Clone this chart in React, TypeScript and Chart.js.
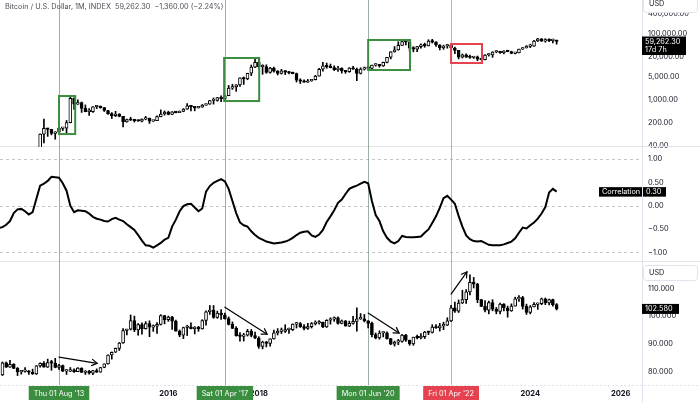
import React, { useEffect, useRef } from "react";
import { Chart, registerables } from "chart.js";

Chart.register(...registerables);

// month index: 0 = Jan 2012
const btcFirstMonth = 14; // Mar 2013
// [open, high, low, close]
const btcCandles: number[][] = [
  [33.4, 95, 33, 93], [93, 266, 50, 139], [139, 140, 79, 129], [129, 130, 88, 97], [97, 110, 65, 106],
  [106, 140, 101, 139], [139, 145, 119, 141], [141, 240, 100, 206], [206, 1240, 204, 1130], [1130, 1160, 520, 750],
  // 2014
  [750, 1020, 740, 830], [830, 870, 420, 560], [560, 710, 440, 445], [445, 550, 340, 445], [445, 630, 420, 625], [625, 680, 550, 640],
  [640, 660, 565, 585], [585, 600, 450, 480], [480, 490, 365, 387], [387, 415, 275, 338], [338, 455, 315, 378], [378, 385, 310, 320],
  // 2015
  [320, 320, 152, 217], [217, 265, 212, 254], [254, 300, 240, 244], [244, 262, 215, 236], [236, 247, 228, 230], [230, 268, 218, 263],
  [263, 318, 251, 284], [284, 284, 195, 230], [230, 243, 225, 236], [236, 331, 236, 314], [314, 502, 310, 378], [378, 468, 348, 430],
  // 2016
  [430, 460, 355, 368], [368, 446, 365, 437], [437, 440, 405, 416], [416, 465, 414, 448], [448, 550, 440, 531], [531, 780, 520, 670],
  [670, 690, 470, 624], [624, 627, 470, 575], [575, 630, 568, 609], [609, 730, 603, 700], [700, 755, 680, 745], [745, 980, 740, 964],
  // 2017
  [964, 1150, 750, 965], [965, 1200, 920, 1190], [1190, 1350, 890, 1080], [1080, 1350, 1060, 1350], [1350, 2760, 1350, 2300], [2300, 3000, 2100, 2480],
  [2480, 2920, 1830, 2875], [2875, 4740, 2600, 4700], [4700, 4980, 2970, 4340], [4340, 6470, 4110, 6450], [6450, 11500, 5500, 9950], [9950, 19800, 9500, 13800],
  // 2018
  [13800, 17200, 9000, 10200], [10200, 11700, 6000, 10300], [10300, 11700, 6450, 6900], [6900, 9750, 6450, 9200], [9200, 10000, 7000, 7500], [7500, 7800, 5750, 6400],
  [6400, 8500, 6100, 7700], [7700, 7750, 5880, 7000], [7000, 7400, 6150, 6600], [6600, 7000, 6200, 6300], [6300, 6560, 3500, 4000], [4000, 4400, 3150, 3700],
  // 2019
  [3700, 4100, 3400, 3450], [3450, 4200, 3400, 3800], [3800, 4150, 3700, 4100], [4100, 5600, 4050, 5300], [5300, 9100, 5300, 8550], [8550, 13800, 7500, 10800],
  [10800, 13200, 9100, 10100], [10100, 12300, 9400, 9600], [9600, 10900, 7800, 8300], [8300, 10500, 7300, 9150], [9150, 9500, 6500, 7550], [7550, 7750, 6450, 7200],
  // 2020
  [7200, 9600, 6900, 9350], [9350, 10500, 8450, 8550], [8550, 9200, 3850, 6400], [6400, 9450, 6150, 8650], [8650, 10000, 8100, 9450], [9450, 10400, 8900, 9140],
  [9140, 11450, 8900, 11350], [11350, 12470, 10600, 11650], [11650, 12100, 9900, 10780], [10780, 14100, 10400, 13800], [13800, 19800, 13200, 19700], [19700, 29300, 17600, 28990],
  // 2021
  [28990, 41900, 28100, 33100], [33100, 58300, 32300, 45200], [45200, 61800, 45000, 58800], [58800, 64800, 47000, 57700], [57700, 59500, 30000, 37300], [37300, 41300, 28800, 35000],
  [35000, 42300, 29300, 41500], [41500, 50500, 37300, 47100], [47100, 52900, 39600, 43800], [43800, 67000, 43300, 61300], [61300, 69000, 53300, 57000], [57000, 59000, 42000, 46300],
  // 2022
  [46300, 47900, 32900, 38500], [38500, 45800, 34300, 43200], [43200, 48200, 37200, 45500], [45500, 47400, 37600, 37700], [37700, 40000, 25400, 31800], [31800, 31900, 17600, 19900],
  [19900, 24700, 18800, 23300], [23300, 25200, 19600, 20000], [20000, 22800, 18200, 19400], [19400, 21000, 18200, 20500], [20500, 21500, 15500, 17200], [17200, 18400, 16300, 16550],
  // 2023
  [16550, 23900, 16500, 23100], [23100, 25250, 21400, 23150], [23150, 29200, 19600, 28500], [28500, 31000, 27000, 29250], [29250, 29800, 25900, 27200], [27200, 31400, 24800, 30500],
  [30500, 31800, 28900, 29200], [29200, 30200, 25200, 25950], [25950, 27500, 24900, 26950], [26950, 35200, 26600, 34650], [34650, 38400, 34100, 37700], [37700, 44700, 37600, 42300],
  // 2024
  [42300, 48900, 38600, 42600], [42600, 63900, 41900, 61200], [61200, 73800, 59100, 71300], [71300, 72800, 59600, 60600], [60600, 71900, 56600, 67500], [67500, 72000, 58500, 62700],
  [62700, 70000, 53500, 64600], [64600, 65600, 49000, 59262.3],
];

const dxyFirstMonth = 4; // May 2012
const dxyCandles: number[][] = [
  [78.8, 83.5, 78.6, 83.2], [83.2, 83.5, 81.5, 81.6], [81.6, 84.1, 81.5, 82.6], [82.6, 82.9, 81.1, 81.2],
  [81.2, 81.5, 78.6, 79.9], [79.9, 80.4, 79.1, 80.1], [80.1, 81.5, 79.8, 80.1], [80.1, 80.4, 79.0, 79.8],
  // 2013
  [79.8, 80.9, 79.0, 79.2], [79.2, 82.2, 79.0, 82.1], [82.1, 83.2, 81.6, 83.0], [83.0, 83.6, 81.6, 81.6], [81.6, 84.5, 81.5, 83.3], [83.3, 84.1, 80.5, 83.1],
  [83.1, 84.8, 81.4, 81.5], [81.5, 82.6, 80.8, 82.2], [82.2, 82.4, 80.0, 80.2], [80.2, 80.7, 79.0, 80.2], [80.2, 81.5, 80.0, 80.7], [80.7, 81.0, 79.7, 80.0],
  // 2014
  [80.0, 81.5, 80.0, 81.3], [81.3, 81.4, 79.7, 79.7], [79.7, 80.4, 79.0, 80.1], [80.1, 80.5, 79.1, 79.5], [79.5, 80.5, 78.9, 80.4], [80.4, 81.0, 79.7, 79.8],
  [79.8, 81.6, 79.8, 81.5], [81.5, 82.8, 81.4, 82.8], [82.8, 86.1, 82.7, 86.0], [86.0, 87.1, 84.5, 87.0], [87.0, 88.5, 86.9, 88.4], [88.4, 90.5, 87.6, 90.3],
  // 2015
  [90.3, 95.5, 90.2, 94.8], [94.8, 95.3, 93.2, 95.3], [95.3, 100.4, 95.0, 98.4], [98.4, 100.0, 94.4, 95.0], [95.0, 97.3, 93.1, 96.9], [96.9, 97.6, 93.5, 95.5],
  [95.5, 98.0, 95.3, 97.3], [97.3, 98.3, 92.6, 96.0], [96.0, 96.8, 94.5, 96.4], [96.4, 97.7, 93.8, 97.0], [97.0, 100.5, 96.8, 100.2], [100.2, 100.3, 97.2, 98.7],
  // 2016
  [98.7, 100.0, 98.1, 99.6], [99.6, 99.9, 95.2, 98.2], [98.2, 98.6, 94.6, 94.6], [94.6, 95.0, 92.6, 93.1], [93.1, 96.0, 91.9, 95.9], [95.9, 96.7, 93.0, 96.1],
  [96.1, 97.6, 95.4, 95.5], [95.5, 96.2, 93.6, 96.0], [96.0, 96.3, 94.5, 95.4], [95.4, 98.7, 95.3, 98.4], [98.4, 101.9, 96.7, 101.5], [101.5, 103.8, 100.6, 102.2],
  // 2017
  [102.2, 103.8, 99.2, 99.5], [99.5, 101.8, 99.2, 101.1], [101.1, 102.3, 98.8, 100.4], [100.4, 101.1, 98.9, 99.1], [99.1, 99.7, 96.8, 97.0], [97.0, 97.9, 95.5, 95.6],
  [95.6, 96.2, 92.8, 92.9], [92.9, 94.1, 91.0, 92.7], [92.7, 93.8, 91.0, 93.1], [93.1, 95.2, 92.8, 94.5], [94.5, 95.2, 92.5, 93.0], [93.0, 94.2, 91.9, 92.1],
  // 2018
  [92.1, 92.6, 88.4, 89.1], [89.1, 91.0, 88.2, 90.6], [90.6, 90.9, 88.9, 90.2], [90.2, 91.8, 89.2, 91.8], [91.8, 95.0, 91.7, 94.0], [94.0, 95.5, 93.2, 94.5],
  [94.5, 95.7, 93.7, 94.5], [94.5, 96.9, 94.1, 95.1], [95.1, 95.7, 93.8, 95.1], [95.1, 97.2, 94.8, 97.1], [97.1, 97.7, 95.7, 97.3], [97.3, 97.7, 95.9, 96.2],
  // 2019
  [96.2, 96.9, 95.0, 95.6], [95.6, 97.4, 95.2, 96.2], [96.2, 97.7, 95.7, 97.3], [97.3, 98.3, 96.8, 97.5], [97.5, 98.4, 97.1, 97.8], [97.8, 97.8, 95.8, 96.1],
  [96.1, 98.7, 95.9, 98.5], [98.5, 99.4, 97.1, 98.9], [98.9, 99.7, 98.1, 99.4], [99.4, 99.7, 97.1, 97.4], [97.4, 98.6, 97.2, 98.3], [98.3, 98.4, 96.4, 96.4],
  // 2020
  [96.4, 98.2, 96.2, 97.4], [97.4, 99.9, 97.1, 98.1], [98.1, 103.0, 94.6, 99.0], [99.0, 100.9, 98.8, 99.0], [99.0, 100.6, 97.9, 98.3], [98.3, 98.4, 95.7, 97.4],
  [97.4, 97.8, 92.5, 93.3], [93.3, 93.9, 91.8, 92.1], [92.1, 94.7, 91.7, 93.9], [93.9, 94.3, 92.5, 94.0], [94.0, 94.3, 91.7, 91.9], [91.9, 92.0, 89.7, 89.9],
  // 2021
  [89.9, 91.0, 89.2, 90.6], [90.6, 91.6, 89.7, 90.9], [90.9, 93.4, 90.6, 93.2], [93.2, 93.4, 90.9, 91.3], [91.3, 91.4, 89.5, 90.0], [90.0, 92.4, 89.5, 92.4],
  [92.4, 93.2, 91.8, 92.2], [92.2, 93.7, 91.8, 92.6], [92.6, 94.5, 91.9, 94.2], [94.2, 94.6, 93.3, 94.1], [94.1, 96.9, 93.9, 96.0], [96.0, 96.9, 95.6, 95.7],
  // 2022
  [95.7, 97.4, 94.6, 96.5], [96.5, 97.8, 95.1, 96.7], [96.7, 99.4, 96.6, 98.3], [98.3, 103.9, 98.0, 103.0], [103.0, 105.0, 101.3, 101.8], [101.8, 105.8, 101.3, 104.7],
  [104.7, 109.3, 104.5, 105.9], [105.9, 109.5, 104.6, 108.7], [108.7, 114.8, 107.6, 112.1], [112.1, 113.9, 110.1, 111.5], [111.5, 111.8, 104.8, 105.9], [105.9, 106.0, 103.4, 103.5],
  // 2023
  [103.5, 105.6, 101.5, 102.1], [102.1, 105.4, 100.8, 104.9], [104.9, 105.9, 101.9, 102.5], [102.5, 103.1, 100.8, 101.7], [101.7, 104.7, 100.8, 104.3], [104.3, 104.5, 101.9, 102.9],
  [102.9, 103.6, 99.6, 101.9], [101.9, 104.4, 101.7, 103.6], [103.6, 106.8, 103.6, 106.2], [106.2, 107.4, 105.3, 106.7], [106.7, 107.1, 102.5, 103.5], [103.5, 104.3, 100.6, 101.3],
  // 2024
  [101.3, 103.8, 100.8, 103.3], [103.3, 104.9, 103.3, 104.2], [104.2, 104.7, 102.4, 104.5], [104.5, 106.5, 104.1, 106.2], [106.2, 106.5, 104.1, 104.7], [104.7, 106.1, 104.0, 105.9],
  [105.9, 106.1, 103.6, 104.1], [104.1, 104.5, 102.2, 102.58],
];

const corrFirstMonth = 3;
const correlation: number[] = [
  -0.48, -0.46, -0.41, -0.33, -0.16, -0.08, -0.07, -0.12, -0.19, -0.14,
  0.15, 0.43, 0.47, 0.53, 0.62, 0.61, 0.6, 0.48, 0.32, 0.0,
  -0.14, -0.1, -0.11, -0.12, -0.17, -0.24, -0.28, -0.3, -0.33, -0.34,
  -0.29, -0.26, -0.3, -0.33, -0.4, -0.46, -0.52, -0.63, -0.75, -0.85,
  -0.86, -0.9, -0.85, -0.8, -0.73, -0.69, -0.45, -0.3, -0.12, -0.01,
  0.03, 0.04, -0.04, -0.12, -0.06, 0.3, 0.42, 0.49, 0.53, 0.57,
  0.52, 0.36, 0.1, -0.16, -0.36, -0.42, -0.45, -0.55, -0.63, -0.69,
  -0.73, -0.77, -0.79, -0.81, -0.8, -0.79, -0.77, -0.74, -0.69, -0.63,
  -0.58, -0.56, -0.55, -0.64, -0.67, -0.62, -0.52, -0.35, -0.23, -0.1,
  0.06, 0.13, 0.25, 0.36, 0.4, 0.43, 0.47, 0.51, 0.48, 0.1,
  -0.2, -0.33, -0.55, -0.69, -0.77, -0.81, -0.76, -0.65, -0.67, -0.68,
  -0.68, -0.67, -0.66, -0.58, -0.51, -0.37, -0.23, -0.05, 0.16, 0.21,
  0.13, 0.04, -0.22, -0.45, -0.64, -0.72, -0.76, -0.77, -0.76, -0.8,
  -0.84, -0.85, -0.85, -0.85, -0.83, -0.8, -0.77, -0.7, -0.58, -0.47,
  -0.49, -0.42, -0.36, -0.28, -0.17, -0.03, 0.28, 0.36, 0.3,
];

const yearTicks = [24, 48, 72, 96, 120, 144, 168];
const btcTicks = [40, 200, 1000, 5000, 20000, 100000, 400000];
const corrTicks = [-1, -0.5, 0, 0.5, 1];
const corrGuides = [1, 0, -1];
const dxyTicks = [80, 90, 100, 110];

const eventMonths = [19, 63, 101, 123];
const eventLabels = ["Thu 01 Aug '13", "Sat 01 Apr '17", "Mon 01 Jun '20", "Fri 01 Apr '22"];
const eventBullish = [true, true, true, false];

const boxStart = [19, 62.8, 101, 123];
const boxEnd = [23.3, 72.1, 112.1, 131.2];
const boxLow = [93, 930, 8100, 13200];
const boxHigh = [1320, 18750, 65800, 49700];

const arrowFromX = [19, 63, 101, 123];
const arrowFromY = [85.2, 103.2, 101.1, 107.9];
const arrowToX = [29.1, 74.2, 109.2, 127.2];
const arrowToY = [83.0, 93.5, 93.9, 115.9];

const titleText = "Bitcoin / U.S. Dollar, 1M, INDEX";
const btcChange = -1360.0;
const btcChangePct = -2.24;
const countdown = "17d 7h";

const FONT = "Inter, 'Liberation Sans', sans-serif";
const GREEN = "#3b8e3f";
const RED = "#e5414e";
const SEP = "#e0e3eb";
const TEXT = "#131722";

function fmt2(v: number) {
  return v.toLocaleString("en-US", { minimumFractionDigits: 2, maximumFractionDigits: 2 });
}
function signed(v: number, d: number) {
  return (v < 0 ? "\u2212" : "") + Math.abs(v).toLocaleString("en-US", { minimumFractionDigits: d, maximumFractionDigits: d });
}

function candleSets(candles: number[][], first: number, axis: string) {
  const wicks = candles.map((c, i) => ({ x: first + i, y: [c[2], c[1]] }));
  const bodies = candles.map((c, i) => ({ x: first + i, y: [Math.min(c[0], c[3]), Math.max(c[0], c[3])] }));
  const fills = candles.map((c) => (c[3] >= c[0] ? "#ffffff" : "#000000"));
  return [
    {
      type: "bar", data: wicks, yAxisID: axis, xAxisID: "x", backgroundColor: "#000000",
      barThickness: 1, grouped: false, borderWidth: 0, order: 2,
    },
    {
      type: "bar", data: bodies, yAxisID: axis, xAxisID: "x", backgroundColor: fills,
      borderColor: "#000000", borderWidth: 1, borderSkipped: false, barThickness: 3,
      minBarLength: 1.5, grouped: false, order: 1,
    },
  ];
}

function seg(ctx: CanvasRenderingContext2D, x1: number, y1: number, x2: number, y2: number) {
  ctx.beginPath();
  ctx.moveTo(x1, y1);
  ctx.lineTo(x2, y2);
  ctx.stroke();
}

const zeroPad = (s: any) => {
  s.paddingTop = 0;
  s.paddingBottom = 0;
  s.paddingLeft = 0;
  s.paddingRight = 0;
};

const overlay = {
  id: "overlay",
  beforeDatasetsDraw(chart: any) {
    const { ctx, chartArea: a, scales } = chart;
    const x = scales.x, yb = scales.yBtc, yc = scales.yCorr;
    ctx.save();
    ctx.lineWidth = 1;
    ctx.strokeStyle = "#c3c6cd";
    ctx.setLineDash([3, 3]);
    corrGuides.forEach((v) => {
      const py = Math.round(yc.getPixelForValue(v)) + 0.5;
      seg(ctx, a.left, py, a.right, py);
    });
    ctx.strokeStyle = SEP;
    ctx.setLineDash([2, 2]);
    seg(ctx, a.left, Math.round(a.bottom) + 0.5, chart.width, Math.round(a.bottom) + 0.5);
    ctx.setLineDash([]);
    [yb.bottom, yc.bottom].forEach((b: number) => {
      const py = Math.round(b) - 0.5;
      seg(ctx, 0, py, chart.width, py);
    });
    seg(ctx, Math.round(a.right) + 0.5, 0, Math.round(a.right) + 0.5, chart.height);
    eventMonths.forEach((m, i) => {
      const px = Math.round(x.getPixelForValue(m)) + 0.5;
      ctx.strokeStyle = eventBullish[i] ? "rgba(90,125,100,0.6)" : "rgba(225,90,105,0.6)";
      seg(ctx, px, 0, px, a.bottom);
    });
    ctx.restore();
  },
  afterDatasetsDraw(chart: any) {
    const { ctx, scales } = chart;
    const x = scales.x, yb = scales.yBtc, yd = scales.yDxy;
    ctx.save();
    ctx.lineWidth = 2;
    boxStart.forEach((s, i) => {
      const x1 = x.getPixelForValue(s), x2 = x.getPixelForValue(boxEnd[i]);
      const y1 = yb.getPixelForValue(boxHigh[i]), y2 = yb.getPixelForValue(boxLow[i]);
      ctx.strokeStyle = eventBullish[i] ? GREEN : RED;
      ctx.strokeRect(x1, y1, x2 - x1, y2 - y1);
    });
    ctx.strokeStyle = "#000000";
    ctx.lineWidth = 1.2;
    ctx.lineCap = "round";
    arrowFromX.forEach((fx, i) => {
      const x1 = x.getPixelForValue(fx), y1 = yd.getPixelForValue(arrowFromY[i]);
      const x2 = x.getPixelForValue(arrowToX[i]), y2 = yd.getPixelForValue(arrowToY[i]);
      seg(ctx, x1, y1, x2, y2);
      const ang = Math.atan2(y2 - y1, x2 - x1);
      const L = 6, sp = 0.55;
      ctx.beginPath();
      ctx.moveTo(x2 - L * Math.cos(ang - sp), y2 - L * Math.sin(ang - sp));
      ctx.lineTo(x2, y2);
      ctx.lineTo(x2 - L * Math.cos(ang + sp), y2 - L * Math.sin(ang + sp));
      ctx.stroke();
    });
    ctx.restore();
  },
  afterDraw(chart: any) {
    const { ctx, chartArea: a, scales } = chart;
    const x = scales.x, yb = scales.yBtc, yc = scales.yCorr, yd = scales.yDxy;
    ctx.save();
    ctx.textBaseline = "middle";
    ctx.font = `7.3px ${FONT}`;
    ctx.textAlign = "center";
    eventMonths.forEach((m, i) => {
      const px = x.getPixelForValue(m);
      const w = ctx.measureText(eventLabels[i]).width + 10;
      ctx.fillStyle = eventBullish[i] ? GREEN : RED;
      ctx.fillRect(px - w / 2, a.bottom + 1, w, 14);
      ctx.fillStyle = "#ffffff";
      ctx.fillText(eventLabels[i], px, a.bottom + 8.5);
    });
    ctx.textAlign = "left";
    ctx.fillStyle = "#4c4f58";
    const last = btcCandles[btcCandles.length - 1][3];
    const title = `${titleText}  ${fmt2(last)}  ${signed(btcChange, 2)} (${signed(btcChangePct, 2)}%)`;
    ctx.fillText(title, 5, 6.5);
    const usd = (top: number, h: number) => {
      ctx.fillStyle = "#ffffff";
      ctx.strokeStyle = SEP;
      ctx.lineWidth = 1;
      ctx.beginPath();
      ctx.roundRect(a.right + 1.5, top + 0.5, 54, h, 3);
      ctx.fill();
      ctx.stroke();
      ctx.fillStyle = TEXT;
      ctx.fillText("USD", a.right + 7, top + h / 2 + 0.5);
    };
    usd(-5, 17);
    usd(yd.top + 3, 15);
    const pb = yb.getPixelForValue(last);
    ctx.fillStyle = "#000000";
    ctx.fillRect(a.right, pb - 5, 44, 18.5);
    ctx.fillStyle = "#ffffff";
    ctx.fillText(fmt2(last), a.right + 3, pb + 0.2);
    ctx.fillText(countdown, a.right + 3, pb + 8.5);
    const cv = correlation[correlation.length - 1];
    const pc = yc.getPixelForValue(cv);
    ctx.fillStyle = "#000000";
    ctx.fillRect(a.right - 43, pc - 4.5, 43, 9.5);
    ctx.fillRect(a.right + 1, pc - 4.5, 23, 9.5);
    ctx.fillStyle = "#ffffff";
    ctx.fillText("Correlation", a.right - 40, pc + 0.3);
    ctx.fillText(cv.toFixed(2), a.right + 4, pc + 0.3);
    const dl = dxyCandles[dxyCandles.length - 1][3];
    const pd = yd.getPixelForValue(dl);
    ctx.fillStyle = "#000000";
    ctx.fillRect(a.right, pd - 5, 37, 10);
    ctx.fillStyle = "#ffffff";
    ctx.fillText(dl.toFixed(3), a.right + 3, pd + 0.3);
    ctx.restore();
  },
};

const axisTicks = (fmt: (v: number) => string) => ({
  autoSkip: false,
  padding: 6,
  color: TEXT,
  font: { family: FONT, size: 7.4 },
  callback: (v: any) => fmt(Number(v)),
});

export default function App() {
  const ref = useRef<HTMLCanvasElement>(null);
  useEffect(() => {
    const canvas = ref.current;
    if (!canvas) return;
    const datasets: any[] = [
      ...candleSets(btcCandles, btcFirstMonth, "yBtc"),
      {
        type: "line",
        data: correlation.map((v, i) => ({ x: corrFirstMonth + i, y: v })),
        yAxisID: "yCorr",
        xAxisID: "x",
        borderColor: "#000000",
        borderWidth: 2,
        pointRadius: 0,
        tension: 0,
        order: 0,
      },
      ...candleSets(dxyCandles, dxyFirstMonth, "yDxy"),
    ];
    const chart = new Chart(canvas, {
      type: "bar",
      data: { datasets },
      options: {
        responsive: false,
        animation: false,
        events: [],
        layout: { padding: 0, autoPadding: false },
        plugins: { legend: { display: false }, tooltip: { enabled: false } },
        scales: {
          x: {
            type: "linear",
            position: "bottom",
            min: 3.35,
            max: 173.64,
            offset: false,
            bounds: "data",
            grid: { display: false, drawTicks: false },
            border: { display: false },
            afterBuildTicks: (s: any) => {
              s.ticks = yearTicks.map((value) => ({ value }));
            },
            afterFit: (s: any) => {
              s.height = 18;
              zeroPad(s);
            },
            ticks: {
              autoSkip: false,
              maxRotation: 0,
              padding: 4,
              color: TEXT,
              font: { family: FONT, size: 7.6, weight: "bold" },
              callback: (v: any) => String(2012 + Number(v) / 12),
            },
          },
          yBtc: {
            type: "logarithmic",
            position: "right",
            stack: "panes",
            stackWeight: 147,
            min: 37.7,
            max: 1072000,
            bounds: "data",
            grid: { display: false, drawTicks: false },
            border: { display: false },
            afterBuildTicks: (s: any) => {
              s.ticks = btcTicks.map((value) => ({ value }));
            },
            afterFit: (s: any) => {
              s.width = 58;
              zeroPad(s);
            },
            ticks: axisTicks((v) => fmt2(v)),
          },
          yCorr: {
            type: "linear",
            position: "right",
            stack: "panes",
            stackWeight: 115,
            min: -1.208,
            max: 1.257,
            bounds: "data",
            grid: { display: false, drawTicks: false },
            border: { display: false },
            afterBuildTicks: (s: any) => {
              s.ticks = corrTicks.map((value) => ({ value }));
            },
            afterFit: (s: any) => {
              s.width = 58;
              zeroPad(s);
            },
            ticks: axisTicks((v) => signed(v, 2)),
          },
          yDxy: {
            type: "linear",
            position: "right",
            stack: "panes",
            stackWeight: 123,
            min: 75.2,
            max: 119.46,
            bounds: "data",
            grid: { display: false, drawTicks: false },
            border: { display: false },
            afterBuildTicks: (s: any) => {
              s.ticks = dxyTicks.map((value) => ({ value }));
            },
            afterFit: (s: any) => {
              s.width = 58;
              zeroPad(s);
            },
            ticks: axisTicks((v) => v.toFixed(3)),
          },
        },
      } as any,
      plugins: [overlay],
    });
    return () => chart.destroy();
  }, []);
  return (
    <div style={{ position: "fixed", left: 0, top: 0, width: 700, height: 403, background: "#ffffff" }}>
      <canvas ref={ref} width={700} height={403} style={{ display: "block" }} />
    </div>
  );
}
